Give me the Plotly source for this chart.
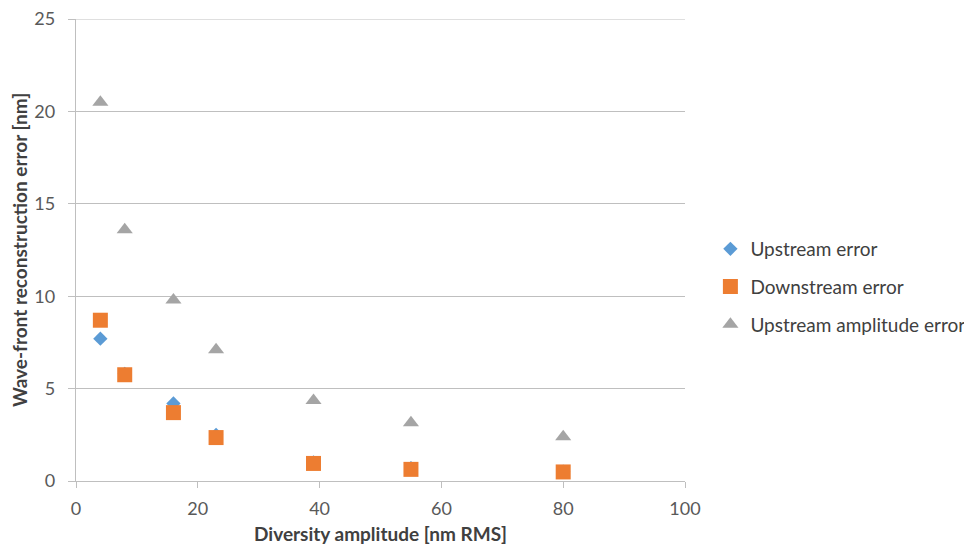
import plotly.graph_objects as go

x_vals = [4, 8, 16, 23, 39, 55, 80]
upstream_error = [7.7, 5.8, 4.2, 2.5, 1.0, 0.7, 0.5]
downstream_error = [8.7, 5.75, 3.7, 2.35, 0.95, 0.63, 0.49]
upstream_amp_error = [20.5, 13.6, 9.8, 7.1, 4.35, 3.15, 2.4]

y_max = 25

series_names = ["Upstream error", "Downstream error", "Upstream amplitude error"]
colors = ["#5b9bd5", "#ed7d31", "#a5a5a5"]
symbols = ["diamond", "square", "triangle-up"]
sizes = [11, 15, 14]

font_family = "Lato, 'Open Sans', sans-serif"

fig = go.Figure()
for i, (name, ys) in enumerate(zip(series_names, [upstream_error, downstream_error, upstream_amp_error])):
    fig.add_trace(go.Scatter(
        x=x_vals, y=ys, mode="markers", name=name, legendgroup=name,
        marker=dict(symbol=symbols[i], color=colors[i], size=sizes[i], line=dict(width=0)),
    ))

# top gridline (plotly clips gridlines at the very edge of the plot area)
fig.add_shape(type="line", xref="paper", yref="y", x0=0, x1=1, y0=y_max, y1=y_max,
              line=dict(color="#bfbfbf", width=1), layer="below")

fig.update_layout(
    width=972, height=548,
    margin=dict(l=68, r=294, t=11, b=75),
    paper_bgcolor="white", plot_bgcolor="white",
    font=dict(family=font_family, size=18, color="#595959"),
    showlegend=True,
    legend=dict(x=1.04, y=0.42, xanchor="left", yanchor="middle",
                traceorder="grouped", tracegroupgap=10,
                font=dict(size=19, color="#404040"), itemwidth=30),
    xaxis=dict(range=[0, 100], dtick=20, showgrid=False, zeroline=False, automargin=False,
               showline=True, linecolor="#bfbfbf", linewidth=1, ticklabeloverflow="allow",
               ticks="outside", ticklen=6, tickcolor="#bfbfbf", ticklabelstandoff=5,
               title=dict(text="<b>Diversity amplitude [nm RMS]</b>", font=dict(size=19, color="#404040"), standoff=10)),
    yaxis=dict(range=[0, y_max], dtick=5, showgrid=True, gridcolor="#bfbfbf", gridwidth=1,
               zeroline=False, automargin=False, ticksuffix="\u00a0\u00a0", ticklabeloverflow="allow",
               showline=True, linecolor="#bfbfbf", linewidth=1,
               ticks="outside", ticklen=7, tickcolor="#bfbfbf",
               title=dict(text="<b>Wave-front reconstruction error [nm]</b>", font=dict(size=19, color="#404040"), standoff=8)),
)

fig.write_html("out.html")
